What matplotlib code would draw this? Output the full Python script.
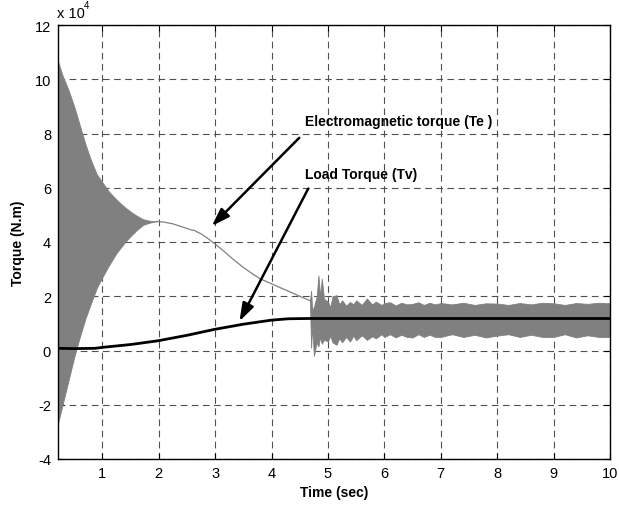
import matplotlib
matplotlib.use("Agg")
import matplotlib.pyplot as plt

plt.rcParams['font.family'] = ['Liberation Sans', 'DejaVu Sans']
plt.rcParams['axes.unicode_minus'] = False

# ---- data (torque values in units of 1e4 N.m) ----
# start-up transient of electromagnetic torque: envelopes of the oscillation
t_start = [0.213, 0.3, 0.4, 0.5, 0.6, 0.7, 0.8, 0.9, 1.0, 1.1, 1.25, 1.4, 1.5, 1.6, 1.72, 1.85, 1.96]
te_start_upper = [10.66, 10.1, 9.6, 9.0, 8.3, 7.6, 7.0, 6.5, 6.2, 5.9, 5.56, 5.28, 5.12, 4.98, 4.84, 4.78, 4.76]
te_start_lower = [-2.68, -1.95, -1.1, -0.25, 0.5, 1.18, 1.75, 2.3, 2.7, 3.08, 3.59, 3.99, 4.22, 4.42, 4.63, 4.72, 4.76]

# smooth middle part of electromagnetic torque
t_mid = [1.96, 2.1, 2.25, 2.38, 2.5, 2.58, 2.63, 2.68, 2.75, 2.85, 2.97, 3.15, 3.32, 3.5, 3.68, 3.8, 4.0, 4.16, 4.35, 4.51, 4.68]
te_mid = [4.76, 4.73, 4.67, 4.58, 4.50, 4.44, 4.43, 4.37, 4.30, 4.16, 3.97, 3.67, 3.36, 3.06, 2.80, 2.64, 2.46, 2.31, 2.14, 1.99, 1.84]

# oscillating part after the switching instant: envelopes
t_end = [4.68, 4.70, 4.72, 4.75, 4.80, 4.83, 4.86, 4.89, 4.93, 5.0, 5.04, 5.08, 5.15, 5.2, 5.25,
         5.32, 5.39, 5.45, 5.5, 5.6, 5.69, 5.78, 5.85, 5.95, 6.0, 6.1, 6.2, 6.3, 6.4, 6.5, 6.6,
         6.7, 6.8, 6.9, 7.0, 7.2, 7.4, 7.6, 7.8, 8.0, 8.2, 8.4, 8.6, 8.8, 9.0, 9.2, 9.4, 9.6, 9.8, 10.0]
te_end_upper = [1.84, 2.2, 1.5, 1.6, 2.0, 2.77, 2.0, 2.65, 1.9, 1.8, 1.6, 2.0, 2.04, 1.7, 1.85,
                1.65, 1.79, 1.7, 1.85, 1.68, 1.92, 1.7, 1.8, 1.68, 1.75, 1.78, 1.66, 1.76, 1.7, 1.72, 1.78,
                1.68, 1.76, 1.7, 1.75, 1.7, 1.76, 1.68, 1.74, 1.73, 1.68, 1.75, 1.7, 1.76, 1.74, 1.68, 1.75, 1.72, 1.76, 1.74]
te_end_lower = [1.84, 0.1, 0.9, -0.2, 0.3, 0.15, 0.5, 0.25, 0.4, 0.33, 0.55, 0.3, 0.21, 0.45, 0.3,
                0.5, 0.33, 0.55, 0.38, 0.56, 0.39, 0.52, 0.45, 0.6, 0.5, 0.6, 0.48, 0.58, 0.5, 0.48, 0.6,
                0.5, 0.58, 0.5, 0.5, 0.6, 0.5, 0.58, 0.48, 0.55, 0.6, 0.5, 0.58, 0.5, 0.5, 0.6, 0.48, 0.56, 0.5, 0.5]

# load torque
t_load = [0.213, 0.5, 0.87, 1.02, 1.5, 1.99, 2.5, 2.99, 3.5, 4.0, 4.3, 4.65, 5.0, 10.0]
tv_load = [0.08, 0.07, 0.08, 0.12, 0.22, 0.36, 0.56, 0.78, 0.97, 1.12, 1.17, 1.18, 1.18, 1.18]

xticks = [1, 2, 3, 4, 5, 6, 7, 8, 9, 10]
yticks = [-4, -2, 0, 2, 4, 6, 8, 10, 12]

GRAY = '#808080'

fig = plt.figure(figsize=(6.19, 5.10), dpi=100)
ax = fig.add_axes([58 / 619, 1 - 460 / 510, (610 - 58) / 619, (460 - 26) / 510])

ax.fill_between(t_start, te_start_lower, te_start_upper, color=GRAY, lw=0.6, zorder=2)
ax.plot(t_mid, te_mid, color=GRAY, lw=0.9, zorder=2)
ax.fill_between(t_end, te_end_lower, te_end_upper, color=GRAY, lw=0.6, zorder=2)
ax.plot(t_load, tv_load, color='black', lw=2.0, zorder=3)

ax.set_xlim(0.213, 10)
ax.set_ylim(-4, 12)
ax.set_xticks(xticks)
ax.set_yticks(yticks)
ax.tick_params(direction='in', length=4, width=0.8, labelsize=10.5, top=True, right=True, pad=5)
ax.grid(True, color='#505050', linestyle=(0, (6, 4)), linewidth=0.8)
ax.set_axisbelow(True)
for s in ax.spines.values():
    s.set_linewidth(1.0)

ax.set_xlabel('Time (sec)', fontsize=10, fontweight='bold', labelpad=4)
ax.set_ylabel('Torque (N.m)', fontsize=10, fontweight='bold', labelpad=7)

fig.text(57 / 619, 1 - 18 / 510, 'x 10', fontsize=10.5, va='baseline', ha='left')
fig.text(84 / 619, 1 - 9 / 510, '4', fontsize=7, va='baseline', ha='left')

ax.text(4.59, 8.45, 'Electromagnetic torque (Te )', fontsize=10, fontweight='bold', va='center', ha='left')
ax.text(4.59, 6.5, 'Load Torque (Tv)', fontsize=10, fontweight='bold', va='center', ha='left')

arrow = dict(arrowstyle='-|>,head_length=0.9,head_width=0.3', color='black', lw=1.8,
             mutation_scale=12, shrinkA=0, shrinkB=0)
ax.annotate('', xy=(2.94, 4.59), xytext=(4.49, 7.84), arrowprops=arrow)
ax.annotate('', xy=(3.43, 1.08), xytext=(4.65, 5.97), arrowprops=arrow)

fig.savefig('out.png', dpi=100)
